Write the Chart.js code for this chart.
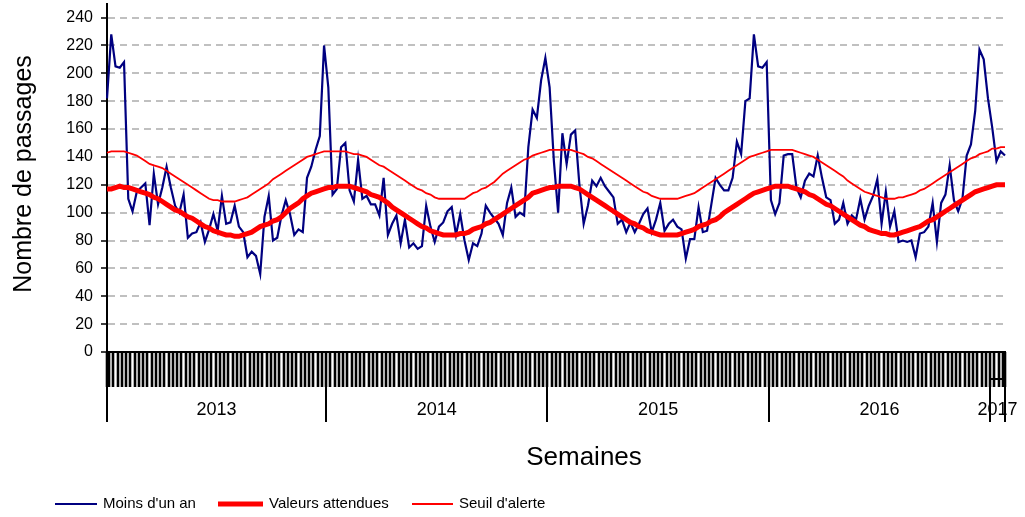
<!DOCTYPE html>
<html>
<head>
<meta charset="utf-8">
<script src="https://cdn.jsdelivr.net/npm/chart.js@4.4.0/dist/chart.umd.min.js"></script>
<style>
  html, body { margin: 0; padding: 0; background: #fff; }
  #wrap { width: 1025px; height: 517px; }
</style>
</head>
<body>
<div id="wrap"><canvas id="myChart" width="1025" height="517"></canvas></div>
<script>
const years = ['2013', '2014', '2015', '2016', '2017'];
const weeksPerYear = [52, 52, 52, 52, 4];

// Moins d'un an (weekly counts)
const moins2013 = [182,228,205,204,208,110,101,115,118,121,91,128,106,118,133,118,105,100,113,82,85,86,93,79,88,99,87,112,92,93,105,90,86,68,72,69,56,97,112,80,82,98,109,99,84,88,86,125,133,145,155,220];
const moins2014 = [190,113,117,147,150,116,108,138,110,112,106,106,98,125,84,92,98,78,95,75,78,74,76,105,90,79,90,93,101,104,84,99,80,66,78,76,85,105,100,96,92,84,107,118,97,100,98,147,174,168,195,211];
const moins2015 = [190,137,100,157,135,156,159,120,92,105,123,119,125,119,115,111,92,95,86,93,86,92,99,103,86,95,107,87,92,95,90,88,67,81,81,104,86,87,106,125,120,116,116,125,151,142,180,182,228,205,204,208];
const moins2016 = [109,99,107,141,142,142,118,111,123,128,126,141,125,111,109,92,95,107,92,98,95,110,95,105,112,124,92,115,90,101,79,80,79,80,68,85,86,90,107,79,107,113,134,109,101,110,141,149,173,217,210,182];
const moins2017 = [161,137,144,141];

// Valeurs attendues
const attendu2013 = [117,117,118,119,118,118,117,116,115,114,113,111,110,108,106,104,102,101,99,97,96,94,92,90,89,87,86,85,84,84,83,83,84,85,86,88,90,91,92,94,95,97,100,103,105,107,110,112,114,115,116,117];
const attendu2014 = [118,118,119,119,119,119,118,117,116,115,113,112,111,109,107,104,102,100,98,96,94,92,90,89,87,86,85,84,84,84,84,85,85,86,88,89,90,92,93,95,97,99,101,103,105,107,109,111,114,115,116,117];
const attendu2015 = [118,118,119,119,119,119,118,117,115,113,111,109,107,105,103,101,99,97,95,93,92,90,89,87,86,85,84,84,84,84,84,85,86,87,88,90,91,92,94,95,97,100,102,104,106,108,110,112,114,115,116,117];
const attendu2016 = [118,119,119,119,119,118,117,116,115,113,112,110,108,106,105,103,101,99,97,95,93,91,90,88,87,86,85,85,84,84,85,86,87,88,89,90,92,94,95,97,99,101,103,105,107,109,111,113,115,116,117,118];
const attendu2017 = [119,120,120,120];

// Seuil d'alerte
const seuil2013 = [143,144,144,144,144,143,142,141,139,137,135,134,133,132,130,128,126,124,122,120,118,116,114,112,110,109,109,108,108,108,108,109,110,111,113,115,117,119,121,124,126,128,130,132,134,136,138,140,141,142,143,144];
const seuil2014 = [144,144,144,144,144,143,142,142,141,140,138,136,134,133,131,129,127,125,123,121,119,117,116,114,113,111,110,110,110,110,110,110,110,112,114,115,117,118,120,122,125,128,130,132,134,136,138,139,141,142,143,144];
const seuil2015 = [145,145,145,145,145,145,144,143,142,140,139,137,135,133,131,129,127,125,123,121,119,117,115,114,112,111,110,110,110,110,110,111,112,113,114,116,118,120,122,124,126,128,130,132,134,136,138,140,141,142,143,144];
const seuil2016 = [145,145,145,145,145,145,144,143,142,141,140,138,136,134,132,130,128,126,123,121,119,117,115,114,113,112,111,110,110,110,111,111,112,113,114,116,117,119,121,123,125,127,129,131,133,135,137,139,140,142,143,144];
const seuil2017 = [146,146,147,147];

const yTicks = [0,20,40,60,80,100,120,140,160,180,200,220,240];

const FONT = "'Liberation Sans', Arial, sans-serif";

// week labels, one per category
var labels = [];
years.forEach(function(y, k) {
  for (var w = 1; w <= weeksPerYear[k]; w++) {
    labels.push(y + '-S' + (w < 10 ? '0' + w : w));
  }
});

var moins = [].concat(moins2013, moins2014, moins2015, moins2016, moins2017);
var attendu = [].concat(attendu2013, attendu2014, attendu2015, attendu2016, attendu2017);
var seuil = [].concat(seuil2013, seuil2014, seuil2015, seuil2016, seuil2017);

function line(ctx, x1, y1, x2, y2) {
  ctx.beginPath();
  ctx.moveTo(x1, y1);
  ctx.lineTo(x2, y2);
  ctx.stroke();
}

const decor = {
  id: 'decor',
  afterDraw(chart) {
    var ctx = chart.ctx;
    var xs = chart.scales.x;
    var area = chart.chartArea;
    var n = labels.length;
    var step = xs.getPixelForValue(1) - xs.getPixelForValue(0);
    var bottom = area.bottom;

    ctx.save();
    ctx.strokeStyle = '#000';
    ctx.fillStyle = '#000';

    // y axis runs a bit above the last tick
    ctx.lineWidth = 2;
    line(ctx, area.left, 3, area.left, area.top);

    // weekly tick marks
    ctx.lineWidth = 2.6;
    for (var i = 1; i < n; i++) {
      var x = Math.round(xs.getPixelForValue(i) - step / 2);
      line(ctx, x, bottom, x, bottom + 35);
    }
    line(ctx, Math.round(area.left), bottom, Math.round(area.left), bottom + 35);
    line(ctx, Math.round(area.right), bottom, Math.round(area.right), bottom + 35);

    // year separators and labels
    var bounds = [area.left];
    var idx = 0;
    weeksPerYear.forEach(function(c) {
      idx += c;
      bounds.push(idx >= n ? area.right : xs.getPixelForValue(idx) - step / 2);
    });
    ctx.lineWidth = 2;
    bounds.forEach(function(b) {
      line(ctx, Math.round(b), bottom, Math.round(b), bottom + 70);
    });
    // short bar closing the last (partial) year
    var lastB = bounds[bounds.length - 2];
    line(ctx, Math.round(lastB), bottom + 27, Math.round(area.right), bottom + 27);

    ctx.font = '18px ' + FONT;
    ctx.textAlign = 'center';
    ctx.textBaseline = 'middle';
    years.forEach(function(y, k) {
      ctx.fillText(y, (bounds[k] + bounds[k + 1]) / 2, bottom + 58);
    });

    // axis titles
    ctx.font = '26px ' + FONT;
    ctx.fillText('Semaines', 584, 458);
    ctx.save();
    ctx.translate(24, 174);
    ctx.rotate(-Math.PI / 2);
    ctx.font = '25px ' + FONT;
    ctx.fillText('Nombre de passages', 0, 0);
    ctx.restore();

    // legend
    var legX = [55, 218, 412];
    var legW = [42, 45, 41];
    var legY = 504;
    ctx.font = '15px ' + FONT;
    ctx.textAlign = 'left';
    chart.data.datasets.forEach(function(ds, k) {
      ctx.strokeStyle = ds.borderColor;
      ctx.lineWidth = ds.legendWidth;
      line(ctx, legX[k], legY, legX[k] + legW[k], legY);
      ctx.fillStyle = '#000';
      ctx.fillText(ds.label, legX[k] + legW[k] + 6, legY);
    });
    ctx.restore();
  }
};

var ctx = document.getElementById('myChart').getContext('2d');
var myChart = new Chart(ctx, {
  type: 'line',
  data: {
    labels: labels,
    datasets: [{
      label: "Moins d'un an",
      data: moins,
      borderColor: '#000080',
      borderWidth: 2.2,
      legendWidth: 2,
      pointRadius: 0,
      tension: 0,
      order: 3
    },
    {
      label: 'Valeurs attendues',
      data: attendu,
      borderColor: '#ff0000',
      borderWidth: 5,
      legendWidth: 5,
      pointRadius: 0,
      tension: 0,
      order: 2
    },
    {
      label: "Seuil d'alerte",
      data: seuil,
      borderColor: '#ff0000',
      borderWidth: 1.8,
      legendWidth: 2,
      pointRadius: 0,
      tension: 0,
      order: 1
    }]
  },
  options: {
    responsive: false,
    animation: false,
    layout: { padding: { left: 0, right: 20, top: 16, bottom: 165 } },
    plugins: {
      legend: { display: false },
      tooltip: { enabled: false }
    },
    scales: {
      x: {
        type: 'category',
        offset: false,
        ticks: { display: false },
        grid: { display: false, drawTicks: false },
        border: { display: true, color: '#000', width: 2 },
        afterFit: function(s) { s.height = 0; }
      },
      y: {
        min: 0,
        max: 240,
        afterBuildTicks: function(s) { s.ticks = yTicks.map(function(v) { return {value: v}; }); },
        ticks: { color: '#000', font: { family: FONT, size: 16 }, padding: 8 },
        grid: { color: '#c0c0c0', lineWidth: 2, tickColor: '#000', tickLength: 6, tickWidth: 1.5 },
        border: { display: true, color: '#000', width: 2, dash: [7, 5] },
        afterFit: function(s) { s.width = 107; }
      }
    }
  },
  plugins: [decor]
});
</script>
</body>
</html>
